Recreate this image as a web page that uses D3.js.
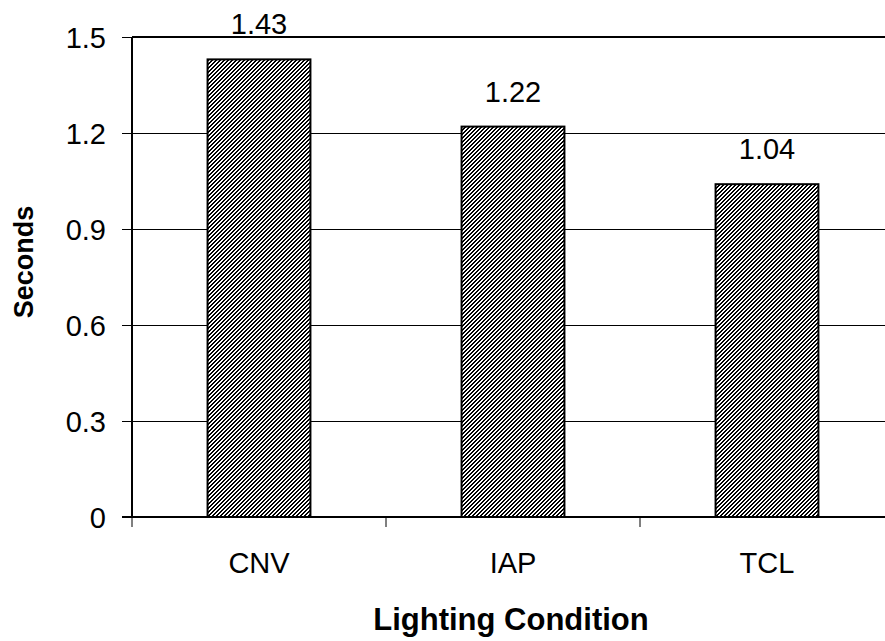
<!DOCTYPE html>
<html>
<head>
<meta charset="utf-8">
<script src="https://cdn.jsdelivr.net/npm/d3@7"></script>
<style>
  body { margin: 0; background: #fff; }
  text { font-family: Arial, "Liberation Sans", sans-serif; fill: #000; }
</style>
</head>
<body>
<svg id="chart" width="885" height="641"></svg>
<script>
var categories = ["CNV", "IAP", "TCL"];
var values = [1.43, 1.22, 1.04];
var yTicks = [0, 0.3, 0.6, 0.9, 1.2, 1.5];
var yTickLabels = ["0", "0.3", "0.6", "0.9", "1.2", "1.5"];

var svg = d3.select("#chart");
var plotLeft = 132, plotBottom = 517, plotTop = 37, catWidth = 254;
var fontSize = 29;

/* three categories of equal width, the last one runs past the right edge */
var x = d3.scaleBand().domain(categories).range([plotLeft, plotLeft + 3 * catWidth])
    .paddingInner(0.595).paddingOuter(0.2975);
var y = d3.scaleLinear().domain([0, 1.5]).range([plotBottom, plotTop]);

/* pixel hatch used by the bars (2px wide upward diagonals) */
var pat = svg.append("defs").append("pattern")
    .attr("id", "hatch")
    .attr("patternUnits", "userSpaceOnUse")
    .attr("width", 4).attr("height", 4);
pat.append("rect").attr("width", 4).attr("height", 4).attr("fill", "#fff");
pat.selectAll("rect.px")
    .data([[0, 3], [1, 2], [2, 1], [3, 0], [1, 3], [2, 2], [3, 1], [0, 0]])
    .join("rect")
    .attr("class", "px")
    .attr("x", function(d) { return d[0]; })
    .attr("y", function(d) { return d[1]; })
    .attr("width", 1).attr("height", 1)
    .attr("fill", "#000")
    .attr("shape-rendering", "crispEdges");

/* gridlines */
svg.append("g").selectAll("line")
    .data(yTicks.slice(1))
    .join("line")
    .attr("x1", plotLeft).attr("x2", 885)
    .attr("y1", function(d) { return y(d); })
    .attr("y2", function(d) { return y(d); })
    .attr("stroke", "#000")
    .attr("stroke-width", function(d) { return d == 1.5 ? 2 : 1; })
    .attr("shape-rendering", "crispEdges");

/* bars */
svg.append("g").selectAll("rect")
    .data(values)
    .join("rect")
    .attr("x", function(d, i) { return x(categories[i]); })
    .attr("width", x.bandwidth())
    .attr("y", function(d) { return y(d); })
    .attr("height", function(d) { return plotBottom - y(d); })
    .attr("fill", "url(#hatch)")
    .attr("stroke", "#000")
    .attr("stroke-width", 2);

/* value labels */
svg.append("g").selectAll("text")
    .data(values)
    .join("text")
    .attr("x", function(d, i) { return x(categories[i]) + x.bandwidth() / 2; })
    .attr("y", function(d) { return y(d) - 25; })
    .attr("text-anchor", "middle")
    .attr("font-size", fontSize)
    .text(function(d) { return d.toFixed(2); });

/* y axis */
var yAxis = d3.axisLeft(y).tickValues(yTicks)
    .tickFormat(function(d, i) { return yTickLabels[i]; })
    .tickSize(10).tickPadding(16);
var gy = svg.append("g").attr("transform", "translate(" + plotLeft + ",0)").call(yAxis);
gy.select(".domain").attr("stroke-width", 2).attr("d", "M0," + plotTop + "V" + plotBottom);
gy.selectAll(".tick line").attr("stroke-width", 1);
gy.selectAll(".tick text").attr("font-size", fontSize).attr("font-family", "Arial, 'Liberation Sans', sans-serif").attr("dy", "0.35em");

/* x axis: ticks on the category boundaries */
svg.append("line")
    .attr("x1", plotLeft - 10).attr("x2", 885)
    .attr("y1", plotBottom).attr("y2", plotBottom)
    .attr("stroke", "#000").attr("stroke-width", 2);
svg.append("g").selectAll("line")
    .data([0, 1, 2])
    .join("line")
    .attr("x1", function(d) { return plotLeft + d * catWidth; })
    .attr("x2", function(d) { return plotLeft + d * catWidth; })
    .attr("y1", plotBottom).attr("y2", plotBottom + 10)
    .attr("stroke", "#000").attr("stroke-width", 1);
svg.append("g").selectAll("text")
    .data(categories)
    .join("text")
    .attr("x", function(d) { return x(d) + x.bandwidth() / 2; })
    .attr("y", 573)
    .attr("text-anchor", "middle")
    .attr("font-size", fontSize)
    .text(function(d) { return d; });

/* axis titles */
svg.append("text")
    .attr("x", 511).attr("y", 630)
    .attr("text-anchor", "middle")
    .attr("font-size", 31).attr("font-weight", "bold")
    .text("Lighting Condition");
svg.append("text")
    .attr("transform", "translate(33,262) rotate(-90)")
    .attr("text-anchor", "middle")
    .attr("font-size", 27).attr("font-weight", "bold")
    .text("Seconds");
</script>
</body>
</html>
